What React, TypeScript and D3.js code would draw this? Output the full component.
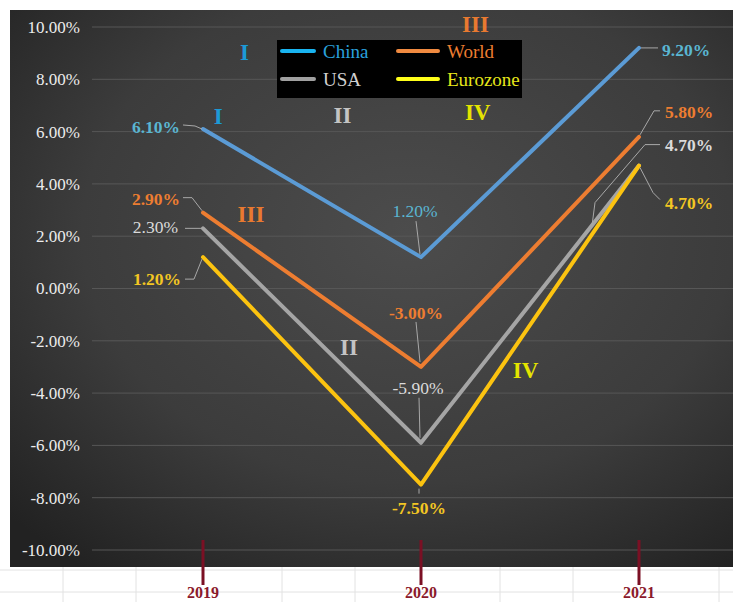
import * as d3 from "d3";

const years = ["2019", "2020", "2021"];
const china = [6.1, 1.2, 9.2];
const world = [2.9, -3.0, 5.8];
const usa = [2.3, -5.9, 4.7];
const eurozone = [1.2, -7.5, 4.7];
const yTicks = [10, 8, 6, 4, 2, 0, -2, -4, -6, -8, -10];
const seriesNames = ["China", "World", "USA", "Eurozone"];

// roman numeral notes, placed in data units (fractional year, value)
const noteTexts = ["I", "I", "II", "III", "IV", "III", "II", "IV"];
const noteYears = [2019.19, 2019.07, 2019.64, 2020.25, 2020.26, 2019.22, 2019.67, 2020.48];
const noteValues = [9.05, 6.6, 6.65, 10.1, 6.75, 2.85, -2.25, -3.1];
const noteSeries = ["China", "China", "USA", "World", "Eurozone", "World", "USA", "Eurozone"];

const W = 733;
const H = 602;
const FONT = "'Liberation Serif', 'Times New Roman', serif";

const lineColor: Record<string, string> = {
  China: "#5b9bd5",
  World: "#ed7d31",
  USA: "#a5a5a5",
  Eurozone: "#fcc310",
};
const labelColor: Record<string, string> = {
  China: "#5ab6d2",
  World: "#ed7d31",
  USA: "#dadada",
  Eurozone: "#f3c623",
};
const legendLine: Record<string, string> = {
  China: "#19b4f0",
  World: "#f08a40",
  USA: "#a0a0a0",
  Eurozone: "#ffff1a",
};
const legendText: Record<string, string> = {
  China: "#2aa0dc",
  World: "#ed7d31",
  USA: "#d0d0d0",
  Eurozone: "#e6e61a",
};
const noteColor: Record<string, string> = {
  China: "#1c9ad6",
  World: "#e97a30",
  USA: "#c4c4c4",
  Eurozone: "#e4e400",
};

type Place = { dx: number; dy: number; anchor: string; bold: boolean; leader: [number, number][] };

// data label placement relative to each point (pixels)
const labelPlace: Record<string, Place[]> = {
  China: [
    { dx: -23, dy: -2, anchor: "end", bold: true, leader: [[-20, -4], [-8, -3], [-1, 0]] },
    { dx: -6, dy: -46, anchor: "middle", bold: false, leader: [[-5, -36], [-1, -3]] },
    { dx: 23, dy: 2, anchor: "start", bold: true, leader: [[2, 0], [19, 0]] },
  ],
  World: [
    { dx: -23, dy: -14, anchor: "end", bold: true, leader: [[-20, -15], [-11, -15], [-1, -2]] },
    { dx: -5, dy: -54, anchor: "middle", bold: true, leader: [[-5, -45], [-1, -5]] },
    { dx: 26, dy: -25, anchor: "start", bold: true, leader: [[21, -26], [15, -26], [1, -2]] },
  ],
  USA: [
    { dx: -25, dy: -1, anchor: "end", bold: false, leader: [[-18, 0], [-2, 0]] },
    { dx: -3, dy: -55, anchor: "middle", bold: false, leader: [[-2, -45], [-1, -5]] },
    { dx: 26, dy: -21, anchor: "start", bold: true, leader: [[21, -21], [6, -21], [-44, 37], [-47, 60]] },
  ],
  Eurozone: [
    { dx: -22, dy: 22, anchor: "end", bold: true, leader: [[-18, 22], [-9, 22], [-1, 2]] },
    { dx: -2, dy: 23, anchor: "middle", bold: true, leader: [[-2, 4], [-2, 9]] },
    { dx: 26, dy: 37, anchor: "start", bold: true, leader: [[1, 2], [14, 27], [21, 34]] },
  ],
};

export default function App() {
  const seriesData: Record<string, number[]> = { China: china, World: world, USA: usa, Eurozone: eurozone };

  const panel = { left: 10, top: 10, right: W, bottom: 567 };
  const gridLeft = 92;

  const x = d3.scalePoint<string>().domain(years).range([203, 639]);
  const xNum = d3.scaleLinear().domain([2019, 2021]).range([203, 639]);
  const y = d3.scaleLinear().domain([-10, 10]).range([550, 27]);

  const line = d3
    .line<number>()
    .x((_, i) => x(years[i]) || 0)
    .y((d) => y(d));

  const fmt = (v: number) => v.toFixed(2) + "%";

  // spreadsheet grid under the chart
  const sheetCols = [63, 136, 282, 355, 500, 573, 719];
  const sheetRows = [570, 592];

  const legendItems = seriesNames.map((name, i) => {
    const col = i % 2;
    const row = Math.floor(i / 2);
    return {
      name,
      x: col === 0 ? 282 : 398,
      len: col === 0 ? 32 : 40,
      gap: col === 0 ? 41 : 49,
      y: row === 0 ? 51 : 79,
    };
  });

  return (
    <svg
      width={W}
      height={H}
      viewBox={`0 0 ${W} ${H}`}
      style={{ position: "absolute", left: 0, top: 0, background: "#ffffff" }}
      fontFamily={FONT}
    >
      <defs>
        <radialGradient id="bg" cx="55%" cy="40%" r="75%">
          <stop offset="0%" stopColor="#4c4c4c" />
          <stop offset="60%" stopColor="#3c3c3c" />
          <stop offset="100%" stopColor="#222222" />
        </radialGradient>
      </defs>

      {/* sheet grid */}
      <g stroke="#e2e2e2" strokeWidth={1}>
        {sheetCols.map((cx) => (
          <line key={"c" + cx} x1={cx} x2={cx} y1={panel.bottom} y2={H} />
        ))}
        {sheetRows.map((ry) => (
          <line key={"r" + ry} x1={0} x2={W} y1={ry} y2={ry} />
        ))}
      </g>

      <rect
        x={panel.left}
        y={panel.top}
        width={panel.right - panel.left}
        height={panel.bottom - panel.top}
        fill="url(#bg)"
      />

      {/* gridlines */}
      <g stroke="#575757" strokeWidth={1}>
        {yTicks.map((t) => (
          <line key={t} x1={gridLeft} x2={panel.right} y1={y(t)} y2={y(t)} />
        ))}
      </g>

      {/* y tick labels */}
      <g fill="#ececec" fontSize={17} textAnchor="end">
        {yTicks.map((t) => (
          <text key={t} x={80} y={y(t)} dy="0.35em">
            {fmt(t)}
          </text>
        ))}
      </g>

      {/* x ticks and labels */}
      <g>
        {years.map((yr) => (
          <g key={yr}>
            <line x1={x(yr)} x2={x(yr)} y1={540} y2={585} stroke="#7b1024" strokeWidth={3} />
            <text
              x={x(yr)}
              y={598}
              textAnchor="middle"
              fill="#8b1a2b"
              fontSize={16}
              fontWeight="bold"
            >
              {yr}
            </text>
          </g>
        ))}
      </g>

      {/* series lines */}
      {seriesNames.map((name) => (
        <path
          key={name}
          d={line(seriesData[name]) || ""}
          fill="none"
          stroke={lineColor[name]}
          strokeWidth={4}
          strokeLinejoin="round"
          strokeLinecap="round"
        />
      ))}

      {/* leader lines and data labels */}
      {seriesNames.map((name) =>
        seriesData[name].map((v, i) => {
          const px = x(years[i]) || 0;
          const py = y(v);
          const p = labelPlace[name][i];
          const pts = p.leader.map(([lx, ly]) => [px + lx, py + ly] as [number, number]);
          return (
            <g key={name + i}>
              <path d={d3.line()(pts) || ""} fill="none" stroke="#a8a8a8" strokeWidth={1} />
              <text
                x={px + p.dx}
                y={py + p.dy}
                dy="0.35em"
                textAnchor={p.anchor}
                fill={labelColor[name]}
                fontSize={17.5}
                fontWeight={p.bold ? "bold" : "normal"}
              >
                {fmt(v)}
              </text>
            </g>
          );
        })
      )}

      {/* roman numeral notes */}
      {noteTexts.map((t, i) => (
        <text
          key={"n" + i}
          x={xNum(noteYears[i])}
          y={y(noteValues[i])}
          dy="0.35em"
          textAnchor="middle"
          fontSize={23}
          fontWeight="bold"
          fill={noteColor[noteSeries[i]]}
        >
          {t}
        </text>
      ))}

      {/* legend */}
      <g>
        <rect x={277} y={40} width={245} height={58} fill="#000000" />
        {legendItems.map((it) => (
          <g key={it.name}>
            <line
              x1={it.x}
              x2={it.x + it.len}
              y1={it.y}
              y2={it.y}
              stroke={legendLine[it.name]}
              strokeWidth={4}
              strokeLinecap="round"
            />
            <text x={it.x + it.gap} y={it.y} dy="0.35em" fontSize={19} fill={legendText[it.name]}>
              {it.name}
            </text>
          </g>
        ))}
      </g>
    </svg>
  );
}
